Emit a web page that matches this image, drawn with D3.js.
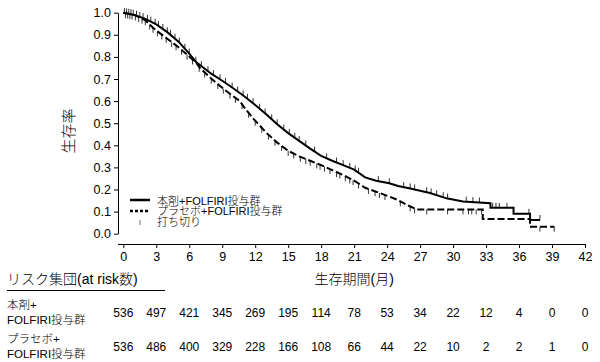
<!DOCTYPE html>
<html>
<head>
<meta charset="utf-8">
<script src="https://cdn.jsdelivr.net/npm/d3@7"></script>
<style>
  body { margin: 0; background: #fff; }
  text { font-family: "Liberation Sans", "Noto Sans CJK JP", sans-serif; fill: #000; font-weight: 300; }
</style>
</head>
<body>
<div id="svgRoot"></div>
<script>
// survival curves: [months, survival]
const solidCurve = [
  [0, 1.0], [1, 0.99], [2, 0.972], [3, 0.947], [4, 0.912], [5, 0.87], [6, 0.815], [6.6, 0.778],
  [7, 0.762], [8, 0.724], [9, 0.692], [10, 0.658], [11, 0.622], [12, 0.582], [13, 0.54],
  [14, 0.495], [15, 0.455], [16, 0.42], [17, 0.385], [18, 0.352], [19, 0.33], [20, 0.31],
  [21, 0.29], [22, 0.255], [23, 0.24], [24.2, 0.228], [25, 0.216], [26, 0.206], [26.7, 0.198],
  [27.9, 0.184], [29.4, 0.16], [30.9, 0.146], [33.4, 0.138], [33.4, 0.117], [35.5, 0.117],
  [35.5, 0.09], [37, 0.09], [37, 0.062], [37.9, 0.062]
];
const dashedCurve = [
  [0, 1.0], [1, 0.99], [2, 0.966], [2.7, 0.932], [3, 0.92], [4, 0.882], [5, 0.845], [5.8, 0.81],
  [6.6, 0.775], [7, 0.748], [8, 0.702], [9, 0.66], [10, 0.622], [10.6, 0.6], [11, 0.572],
  [11.8, 0.522], [12.4, 0.49], [13, 0.457], [14, 0.412], [15, 0.375], [16, 0.35], [17, 0.33],
  [18, 0.31], [19, 0.288], [20, 0.265], [21, 0.24], [22, 0.208], [23, 0.19], [24.2, 0.168],
  [25, 0.152], [25.8, 0.13], [26.7, 0.11], [32.7, 0.11], [32.7, 0.066], [37, 0.066],
  [37, 0.032], [39.2, 0.032]
];

// censoring times (months)
const solidCensor = [
  0.1, 0.3, 0.5, 0.7, 0.9, 1.2, 1.5, 1.8, 2.2, 2.5, 2.9, 3.2, 3.6, 4.0, 4.3, 4.7, 5.1, 5.6,
  6.0, 6.6, 7.1, 7.7, 8.2, 8.8, 9.3, 9.9, 10.4, 10.9, 11.3, 11.8, 12.4, 12.9, 13.5, 14.0,
  14.6, 15.1, 15.6, 16.0, 16.6, 17.4, 18.5, 19.4, 20.0, 20.6, 21.1, 21.4, 23.2, 24.2, 25.5,
  26.1, 26.5, 27.6, 28.0, 28.5, 29.1, 29.5, 31.2, 31.8, 32.4, 33.6, 33.9, 34.2, 34.9, 36.9, 37.9
];
const dashedCensor = [
  0.2, 0.4, 0.6, 0.8, 1.1, 1.4, 1.7, 2.0, 2.4, 2.7, 3.1, 3.5, 3.9, 4.4, 4.8, 5.3, 5.8, 6.3,
  6.9, 7.4, 8.0, 8.6, 9.1, 9.7, 10.2, 10.8, 11.4, 12.0, 12.6, 13.2, 13.8, 14.4, 15.0, 15.5,
  16.1, 16.6, 17.0, 17.6, 17.9, 18.3, 18.8, 19.4, 19.7, 20.2, 20.6, 20.9, 21.4, 22.3, 22.9,
  23.3, 23.8, 25.2, 26.1, 26.5, 27.6, 29.5, 30.9, 31.4, 31.7, 32.1, 32.6, 37.9, 39.2
];

const xTicks = d3.range(0, 43, 3);
const yTicks = [0, 0.1, 0.2, 0.3, 0.4, 0.5, 0.6, 0.7, 0.8, 0.9, 1.0];

const riskLabels = [["本剤+", "FOLFIRI投与群"], ["プラセボ+", "FOLFIRI投与群"]];
const riskSolid = [536, 497, 421, 345, 269, 195, 114, 78, 53, 34, 22, 12, 4, 0, 0];
const riskDashed = [536, 486, 400, 329, 228, 166, 108, 66, 44, 22, 10, 2, 2, 1, 0];

const legendItems = ["本剤+FOLFIRI投与群", "プラセボ+FOLFIRI投与群", "打ち切り"];

const W = 600, H = 362;
const yAxisX = 118, xAxisY = 244;

const svg = d3.select("#svgRoot").append("svg")
  .attr("width", W).attr("height", H);

const x = d3.scaleLinear().domain([0, 42]).range([123.3, 585]);
const y = d3.scaleLinear().domain([0, 1]).range([233.7, 12.7]);

// Y axis
const gy = svg.append("g")
  .attr("transform", "translate(" + yAxisX + ",0)")
  .call(d3.axisLeft(y).tickValues(yTicks).tickFormat(d3.format(".1f")).tickSize(4).tickSizeOuter(0).tickPadding(3));
gy.selectAll("text").style("font-size", "12.5px");

// X axis
const gx = svg.append("g")
  .attr("transform", "translate(0," + xAxisY + ")")
  .call(d3.axisBottom(x).tickValues(xTicks).tickSize(4).tickSizeOuter(0).tickPadding(4));
gx.selectAll("text").style("font-size", "12.5px");
svg.append("line")
  .attr("x1", yAxisX).attr("x2", x(0))
  .attr("y1", xAxisY + 0.5).attr("y2", xAxisY + 0.5)
  .attr("stroke", "#000");
svg.selectAll(".domain").attr("stroke", "#000");

// censor ticks
function survAt(curve, t) {
  for (let i = 0; i < curve.length - 1; i++) {
    const a = curve[i], b = curve[i + 1];
    if (t >= a[0] && t <= b[0]) {
      if (b[0] === a[0]) return a[1];
      return a[1] + (b[1] - a[1]) * (t - a[0]) / (b[0] - a[0]);
    }
  }
  return curve[curve.length - 1][1];
}

svg.append("g").selectAll("line")
  .data(solidCensor).enter().append("line")
  .attr("x1", d => x(d)).attr("x2", d => x(d))
  .attr("y1", d => y(survAt(solidCurve, d)))
  .attr("y2", d => y(survAt(solidCurve, d)) - 5)
  .attr("stroke", "#333").attr("stroke-width", 1);

svg.append("g").selectAll("line")
  .data(dashedCensor).enter().append("line")
  .attr("x1", d => x(d)).attr("x2", d => x(d))
  .attr("y1", d => y(survAt(dashedCurve, d)))
  .attr("y2", d => y(survAt(dashedCurve, d)) + 5)
  .attr("stroke", "#333").attr("stroke-width", 1);

// curves
const line = d3.line().x(d => x(d[0])).y(d => y(d[1]));
svg.append("path").attr("d", line(dashedCurve))
  .attr("fill", "none").attr("stroke", "#000").attr("stroke-width", 2)
  .attr("stroke-dasharray", "7,3");
svg.append("path").attr("d", line(solidCurve))
  .attr("fill", "none").attr("stroke", "#000").attr("stroke-width", 2);

// legend
const lg = svg.append("g").attr("transform", "translate(130,0)");
lg.append("line").attr("x1", 0).attr("x2", 20).attr("y1", 200).attr("y2", 200)
  .attr("stroke", "#000").attr("stroke-width", 2.5);
lg.append("line").attr("x1", 0).attr("x2", 18).attr("y1", 211).attr("y2", 211)
  .attr("stroke", "#000").attr("stroke-width", 2.5).attr("stroke-dasharray", "3,2");
lg.append("line").attr("x1", 10).attr("x2", 10).attr("y1", 220).attr("y2", 225)
  .attr("stroke", "#777").attr("stroke-width", 1);
lg.selectAll("text.leg").data(legendItems).enter().append("text")
  .attr("class", "leg")
  .attr("x", 27)
  .attr("y", (d, i) => 204.5 + i * 10.8)
  .style("font-size", "11px")
  .text(d => d);

// axis titles
svg.append("text")
  .attr("transform", "translate(74,131) rotate(-90)")
  .attr("text-anchor", "middle")
  .style("font-size", "15px")
  .text("生存率");

svg.append("text")
  .attr("x", x(21)).attr("y", 284)
  .attr("text-anchor", "middle")
  .style("font-size", "14px")
  .text("生存期間(月)");

// risk table
svg.append("text")
  .attr("x", 7).attr("y", 284)
  .style("font-size", "14px")
  .text("リスク集団(at risk数)");
svg.append("line")
  .attr("x1", 7).attr("x2", 165).attr("y1", 290.5).attr("y2", 290.5)
  .attr("stroke", "#000");

[riskSolid, riskDashed].forEach(function (row, r) {
  const base = r === 0 ? 309 : 343;
  svg.append("text").attr("x", 7).attr("y", base).style("font-size", "11.5px").text(riskLabels[r][0]);
  svg.append("text").attr("x", 7).attr("y", base + 15).style("font-size", "11.5px").text(riskLabels[r][1]);
  svg.append("g").selectAll("text")
    .data(row).enter().append("text")
    .attr("x", (d, i) => x(xTicks[i]))
    .attr("y", base + 8)
    .attr("text-anchor", "middle")
    .style("font-size", "12px")
    .text(d => d);
});
</script>
</body>
</html>
